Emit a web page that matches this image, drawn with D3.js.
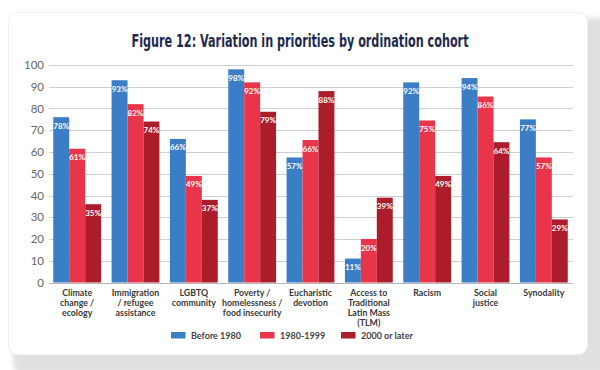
<!DOCTYPE html>
<html>
<head>
<meta charset="utf-8">
<script src="https://cdn.jsdelivr.net/npm/d3@7"></script>
<style>
  body { margin: 0; background: #fff; }
  svg { display: block; }
</style>
</head>
<body>
<svg id="chart" width="600" height="370"></svg>
<script>
const categories = [
  ['Climate', 'change /', 'ecology'],
  ['Immigration', '/ refugee', 'assistance'],
  ['LGBTQ', 'community'],
  ['Poverty /', 'homelessness /', 'food insecurity'],
  ['Eucharistic', 'devotion'],
  ['Access to', 'Traditional', 'Latin Mass', '(TLM)'],
  ['Racism'],
  ['Social', 'justice'],
  ['Synodality']
]
const seriesNames = ['Before 1980', '1980-1999', '2000 or later']
const seriesColors = ['#3b7ec5', '#e93549', '#ab1d2b']

// bar heights as drawn
const before1980 = [76, 93, 66, 98, 57.5, 11, 92, 94, 75]
const from1980to1999 = [61.5, 82, 49, 92, 65.5, 20, 74.5, 85.5, 57.5]
const after2000 = [36, 74, 38, 78.5, 88, 39, 49, 64.5, 29]

// printed percentages
const before1980Labels = [78, 93, 66, 98, 57, 11, 92, 94, 77]
const from1980to1999Labels = [61, 82, 49, 92, 66, 20, 75, 86, 57]
const after2000Labels = [35, 74, 37, 79, 88, 39, 49, 64, 29]

const yTicks = [0, 10, 20, 30, 40, 50, 60, 70, 80, 90, 100]

const series = [before1980, from1980to1999, after2000]
const seriesLabels = [before1980Labels, from1980to1999Labels, after2000Labels]

const svg = d3.select('#chart')

// card with shadow
const defs = svg.append('defs')
defs.append('filter')
  .attr('id', 'blur')
  .attr('x', '-10%').attr('y', '-10%')
  .attr('width', '120%').attr('height', '120%')
  .append('feGaussianBlur')
  .attr('stdDeviation', 2.5)

svg.append('rect')
  .attr('x', 13).attr('y', 18)
  .attr('width', 596).attr('height', 356)
  .attr('rx', 10)
  .attr('fill', '#e0e0e0')
  .attr('filter', 'url(#blur)')

svg.append('rect')
  .attr('x', 8.5).attr('y', 12.5)
  .attr('width', 579).attr('height', 342)
  .attr('rx', 9)
  .attr('fill', '#fff')
  .attr('stroke', '#f0f0f0')

svg.append('text')
  .attr('x', 300)
  .attr('y', 47)
  .attr('text-anchor', 'middle')
  .attr('font-family', '"Liberation Sans Narrow", "DejaVu Sans Condensed", sans-serif')
  .attr('font-weight', 'bold')
  .attr('font-size', 17)
  .attr('fill', '#1d2a4d')
  .attr('textLength', 337)
  .attr('lengthAdjust', 'spacingAndGlyphs')
  .text('Figure 12: Variation in priorities by ordination cohort')

const x = d3.scaleBand()
  .domain(d3.range(categories.length))
  .range([48, 573])
  .paddingInner(0.18)
  .paddingOuter(0.09)

const xSub = d3.scaleBand()
  .domain(d3.range(series.length))
  .range([0, x.bandwidth()])

const y = d3.scaleLinear()
  .domain([0, 100])
  .range([282.5, 65])

// gridlines
svg.append('g')
  .selectAll('line')
  .data(yTicks)
  .join('line')
  .attr('x1', 49)
  .attr('x2', 573)
  .attr('y1', d => Math.round(y(d)) + 0.5)
  .attr('y2', d => Math.round(y(d)) + 0.5)
  .attr('stroke', d => d === 0 ? '#b5b5b5' : '#cfcfcf')
  .attr('stroke-width', 1)

svg.append('g')
  .selectAll('text')
  .data(yTicks)
  .join('text')
  .attr('x', 44)
  .attr('y', d => y(d) + 4)
  .attr('text-anchor', 'end')
  .attr('font-family', 'Lato, sans-serif')
  .attr('font-size', 11.5)
  .attr('fill', '#666')
  .text(d => d)

// bars
const groups = svg.append('g')
  .selectAll('g')
  .data(categories)
  .join('g')
  .attr('transform', (d, i) => `translate(${x(i)},0)`)

series.forEach((values, s) => {
  groups.append('rect')
    .attr('x', xSub(s))
    .attr('y', (d, i) => y(values[i]))
    .attr('width', xSub.bandwidth())
    .attr('height', (d, i) => y(0) - y(values[i]))
    .attr('fill', seriesColors[s])

  groups.append('text')
    .attr('x', xSub(s) + xSub.bandwidth() / 2)
    .attr('y', (d, i) => y(values[i]) + 11.5)
    .attr('text-anchor', 'middle')
    .attr('font-family', 'Lato, sans-serif')
    .attr('font-weight', 'bold')
    .attr('font-size', 8)
    .attr('fill', '#fff')
    .text((d, i) => seriesLabels[s][i] + '%')
})

// category labels
groups.append('text')
  .attr('x', x.bandwidth() / 2)
  .attr('y', 295.5)
  .attr('text-anchor', 'middle')
  .attr('font-family', 'Lato, sans-serif')
  .attr('font-weight', 'bold')
  .attr('font-size', 8.8)
  .attr('fill', '#3a3a3a')
  .selectAll('tspan')
  .data(d => d)
  .join('tspan')
  .attr('x', x.bandwidth() / 2)
  .attr('dy', (d, i) => i === 0 ? 0 : 10)
  .text(d => d)

// legend
const legendX = [171, 260, 341]
const legend = svg.append('g')
  .selectAll('g')
  .data(seriesNames)
  .join('g')
  .attr('transform', (d, i) => `translate(${legendX[i]},332)`)

legend.append('rect')
  .attr('width', 14.5)
  .attr('height', 6.5)
  .attr('fill', (d, i) => seriesColors[i])

legend.append('text')
  .attr('x', 20)
  .attr('y', 6.5)
  .attr('font-family', 'Lato, sans-serif')
  .attr('font-weight', 'bold')
  .attr('font-size', 9)
  .attr('fill', '#444')
  .text(d => d)
</script>
</body>
</html>
